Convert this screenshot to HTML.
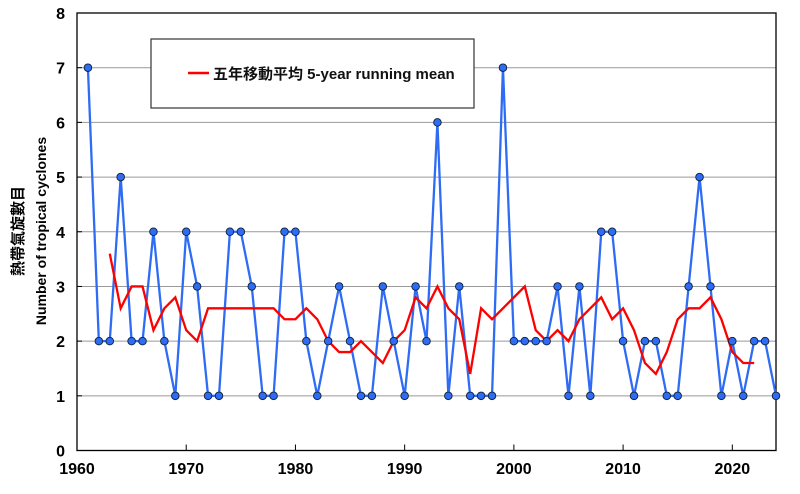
<!DOCTYPE html>
<html><head><meta charset="utf-8"><style>
body{margin:0;background:#fff;}
svg text{font-family:"Liberation Sans","Noto Sans CJK TC",sans-serif;}
</style></head><body>
<svg id="chart" width="800" height="489" viewBox="0 0 800 489" xmlns="http://www.w3.org/2000/svg">
<g id="grid"></g>
<g id="axes"></g>
<g id="series"></g>
<g>
<rect x="151" y="39" width="323" height="69" fill="#fff" stroke="#333" stroke-width="1.2"/>
<line x1="188" y1="73" x2="209" y2="73" stroke="#f00" stroke-width="2.5"/>
<text x="213" y="79" font-size="15" font-weight="bold" fill="#111">五年移動平均 5-year running mean</text>
</g>
<text transform="translate(23,231) rotate(-90)" text-anchor="middle" font-size="15" font-weight="bold">熱帶氣旋數目</text>
<text transform="translate(46,231) rotate(-90)" text-anchor="middle" font-size="14" font-weight="bold">Number of tropical cyclones</text>
</svg>
<script>
const years = [];
for (let y = 1961; y <= 2024; y++) years.push(y);
const counts = [7,2,2,5,2,2,4,2,1,4,3,1,1,4,4,3,1,1,4,4,2,1,2,3,2,1,1,3,2,1,3,2,6,1,3,1,1,1,7,2,2,2,2,3,1,3,1,4,4,2,1,2,2,1,1,3,5,3,1,2,1,2,2,1];
const meanStartYear = 1963;
const runningMean = [3.6,2.6,3,3,2.2,2.6,2.8,2.2,2,2.6,2.6,2.6,2.6,2.6,2.6,2.6,2.4,2.4,2.6,2.4,2,1.8,1.8,2,1.8,1.6,2,2.2,2.8,2.6,3,2.6,2.4,1.4,2.6,2.4,2.6,2.8,3,2.2,2,2.2,2,2.4,2.6,2.8,2.4,2.6,2.2,1.6,1.4,1.8,2.4,2.6,2.6,2.8,2.4,1.8,1.6,1.6];
const xTicks = [1960,1970,1980,1990,2000,2010,2020];
const yTicks = [0,1,2,3,4,5,6,7,8];

const L=77,R=776,T=13,B=450.5;
const X0=1960,X1=2024,Y0=0,Y1=8;
const xs=v=>L+(v-X0)/(X1-X0)*(R-L);
const ys=v=>B-(v-Y0)/(Y1-Y0)*(B-T);
const NS="http://www.w3.org/2000/svg";
function mk(tag,parent,attrs){const e=document.createElementNS(NS,tag);for(const k in attrs)e.setAttribute(k,attrs[k]);parent.appendChild(e);return e;}
const grid=document.getElementById('grid'),axes=document.getElementById('axes'),series=document.getElementById('series');

yTicks.forEach(t=>{
  if(t>0&&t<8){const g=mk('line',grid,{x1:L,x2:R,y1:ys(t),y2:ys(t),stroke:'#999','stroke-width':1});
  
  }
  const tk=mk('line',axes,{x1:L,x2:L+5,y1:ys(t),y2:ys(t),stroke:'#000'});
  
  
  const lb=mk('text',axes,{x:L-12,y:ys(t)+6,'text-anchor':'end','font-size':16,'font-weight':'bold'});
  lb.textContent=t;
  
  
});
xTicks.forEach(t=>{
  const tk=mk('line',axes,{x1:xs(t),x2:xs(t),y1:B,y2:B-6,stroke:'#000'});
  
  
  const lb=mk('text',axes,{x:xs(t),y:474,'text-anchor':'middle','font-size':16,'font-weight':'bold'});
  lb.textContent=t;
  
  
});
const frame=mk('rect',axes,{x:L,y:T,width:R-L,height:B-T,fill:'none',stroke:'#000','stroke-width':1.3});



const cl=mk('polyline',series,{points:counts.map((c,i)=>xs(years[i])+','+ys(c)).join(' '),fill:'none',stroke:'#2f6cf5','stroke-width':2.3});


const ml=mk('polyline',series,{points:runningMean.map((m,i)=>xs(meanStartYear+i)+','+ys(m)).join(' '),fill:'none',stroke:'#f00','stroke-width':2.3});


counts.forEach((c,i)=>{
  const p=mk('circle',series,{cx:xs(years[i]),cy:ys(c),r:3.8,fill:'#2f6cf5',stroke:'#123','stroke-width':0.9});
  
  
});
</script>
</body></html>
